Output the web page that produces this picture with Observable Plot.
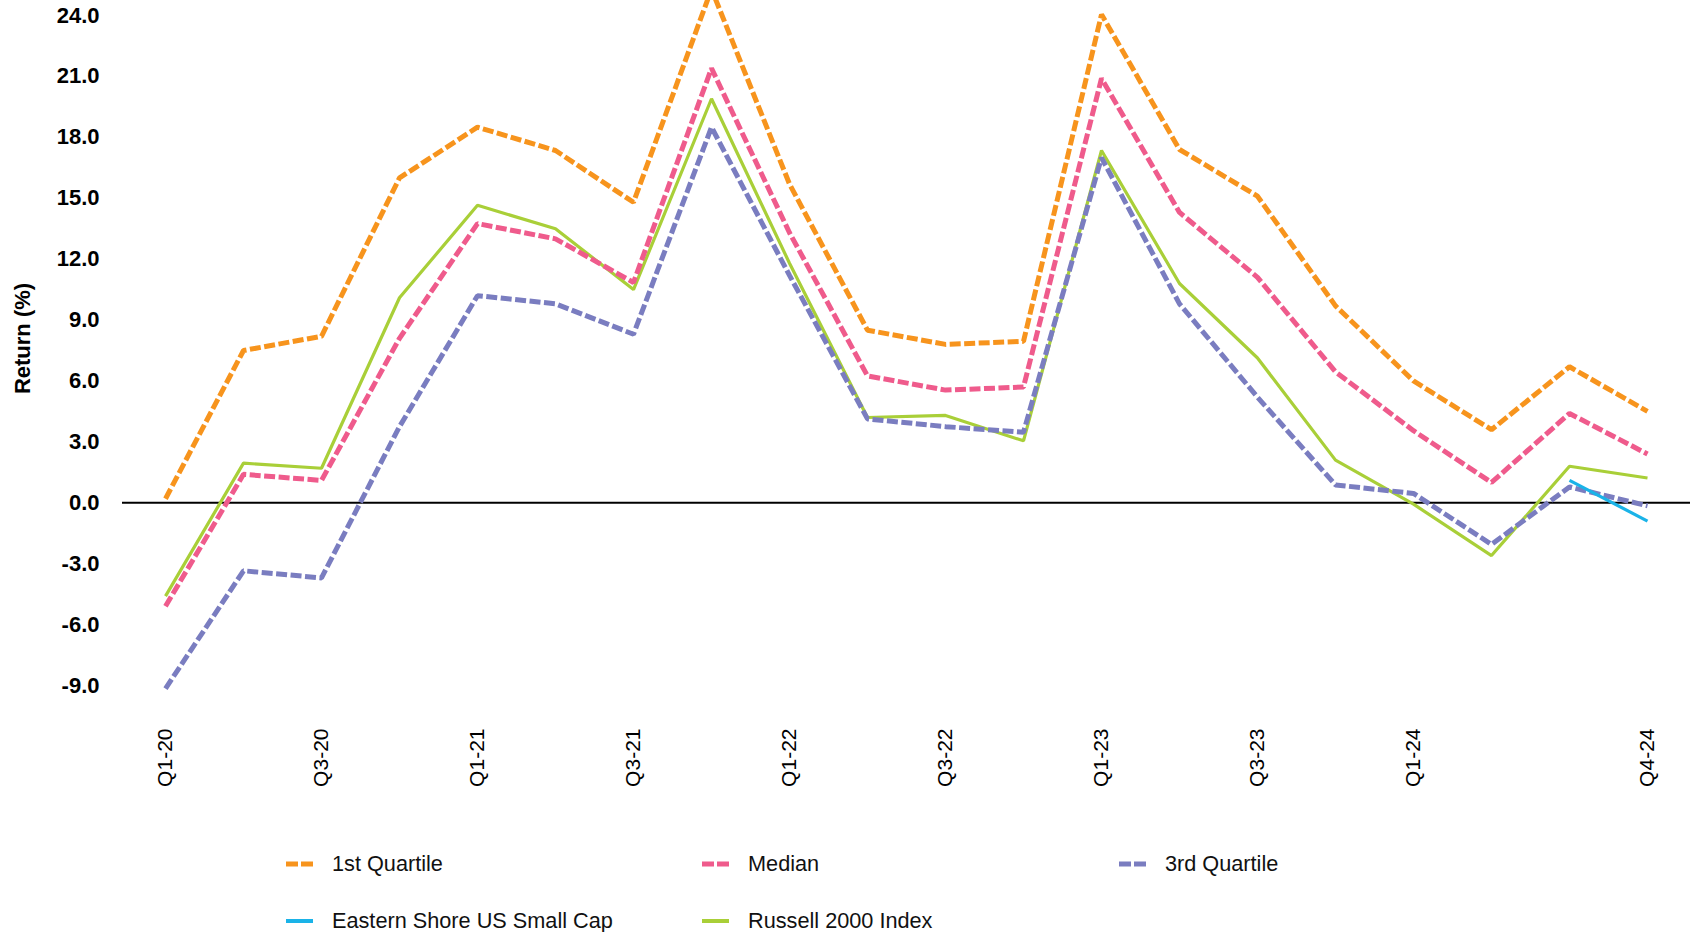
<!DOCTYPE html>
<html>
<head>
<meta charset="utf-8">
<script src="https://cdn.jsdelivr.net/npm/d3@7"></script>
<script src="https://cdn.jsdelivr.net/npm/@observablehq/plot@0.6"></script>
<style>
  html, body { margin: 0; padding: 0; background: #fff; }
  body { width: 1690px; height: 932px; overflow: hidden; font-family: "Liberation Sans", Arial, sans-serif; }
  #legend { position: relative; margin-top: 5px; height: 114px; }
  .item { position: absolute; height: 57px; display: flex; align-items: center; font-size: 21.7px; color: #111; }
  .item svg { margin-right: 19px; }
</style>
</head>
<body>
<div id="chart"></div>
<div id="legend"></div>
<script>
const quarters = ["Q1-20","Q2-20","Q3-20","Q4-20","Q1-21","Q2-21","Q3-21","Q4-21","Q1-22","Q2-22","Q3-22","Q4-22","Q1-23","Q2-23","Q3-23","Q4-23","Q1-24","Q2-24","Q3-24","Q4-24"];
const xTickLabels = ["Q1-20","Q3-20","Q1-21","Q3-21","Q1-22","Q3-22","Q1-23","Q3-23","Q1-24","Q4-24"];
const yTicks = [-9, -6, -3, 0, 3, 6, 9, 12, 15, 18, 21, 24];
const yTitle = "Return (%)";

const firstQuartile = [0.2, 7.5, 8.2, 16.0, 18.5, 17.35, 14.8, 25.3, 15.7, 8.5, 7.8, 7.95, 24.05, 17.4, 15.1, 9.7, 6.0, 3.6, 6.7, 4.5];
const median        = [-5.1, 1.4, 1.1, 8.1, 13.75, 13.0, 10.85, 21.4, 13.3, 6.25, 5.55, 5.7, 20.9, 14.3, 11.1, 6.45, 3.55, 1.0, 4.4, 2.4];
const thirdQuartile = [-9.15, -3.35, -3.7, 3.75, 10.2, 9.8, 8.3, 18.5, 11.2, 4.13, 3.75, 3.47, 17.0, 9.8, 5.2, 0.88, 0.46, -2.05, 0.78, -0.15];
const easternShore  = [null, null, null, null, null, null, null, null, null, null, null, null, null, null, null, null, null, null, 1.1, -0.9];
const russell2000   = [-4.6, 1.95, 1.7, 10.1, 14.65, 13.5, 10.5, 19.9, 11.8, 4.2, 4.3, 3.05, 17.35, 10.8, 7.13, 2.1, -0.07, -2.6, 1.8, 1.22];

const seriesNames  = ["1st Quartile", "Median", "3rd Quartile", "Eastern Shore US Small Cap", "Russell 2000 Index"];
const seriesValues = [firstQuartile, median, thirdQuartile, easternShore, russell2000];
const seriesColors = ["#F7941D", "#EF5B8C", "#7A7DC0", "#1AB3E8", "#A9CF38"];
const seriesDashed = [true, true, true, false, false];
const drawOrder    = [4, 0, 1, 2, 3];

const rows = (k) => quarters.map((q, i) => ({quarter: q, value: seriesValues[k][i]}));

const lineMarks = drawOrder.map(k => Plot.line(rows(k), {
  x: "quarter",
  y: "value",
  stroke: seriesColors[k],
  strokeWidth: seriesDashed[k] ? 5 : 3.2,
  strokeDasharray: seriesDashed[k] ? "11,3.5" : null,
  strokeLinecap: "butt",
  strokeLinejoin: "miter"
}));

const chart = Plot.plot({
  width: 1690,
  height: 830,
  marginLeft: 122,
  marginRight: 0,
  marginTop: 15,
  marginBottom: 145,
  style: {fontFamily: "'Liberation Sans', Arial, sans-serif", color: "#000", background: "#fff"},
  x: {type: "point", domain: quarters, padding: 0.5},
  y: {domain: [-9, 24]},
  marks: [
    Plot.axisY({
      ticks: yTicks,
      tickFormat: v => v.toFixed(1),
      tickSize: 0,
      tickPadding: 23,
      fontSize: 22,
      fontWeight: "bold",
      label: null
    }),
    Plot.text([yTitle], {
      frameAnchor: "left",
      text: d => d,
      rotate: -90,
      dx: -99.5,
      dy: -12,
      fontSize: 22,
      fontWeight: "bold",
      fill: "#000",
      textAnchor: "middle",
      lineAnchor: "middle"
    }),
    Plot.axisX({
      ticks: xTickLabels,
      tickSize: 0,
      tickPadding: 43,
      tickRotate: -90,
      fontSize: 21,
      label: null
    }),
    Plot.ruleY([0], {stroke: "#000", strokeWidth: 2}),
    ...lineMarks
  ]
});
document.getElementById("chart").appendChild(chart);

// Legend
const legendLeft = [286, 702, 1119];
const legend = document.getElementById("legend");
seriesNames.forEach((name, k) => {
  const row = Math.floor(k / 3), col = k % 3;
  const item = document.createElement("div");
  item.className = "item";
  item.style.left = legendLeft[col] + "px";
  item.style.top = (row * 57) + "px";
  const sw = seriesDashed[k]
    ? `<svg width="27" height="8"><line x1="0" y1="4" x2="27" y2="4" stroke="${seriesColors[k]}" stroke-width="5" stroke-dasharray="12,3"/></svg>`
    : `<svg width="27" height="8"><line x1="0" y1="4" x2="27" y2="4" stroke="${seriesColors[k]}" stroke-width="4"/></svg>`;
  item.innerHTML = sw + `<span>${name}</span>`;
  legend.appendChild(item);
});
</script>
</body>
</html>
